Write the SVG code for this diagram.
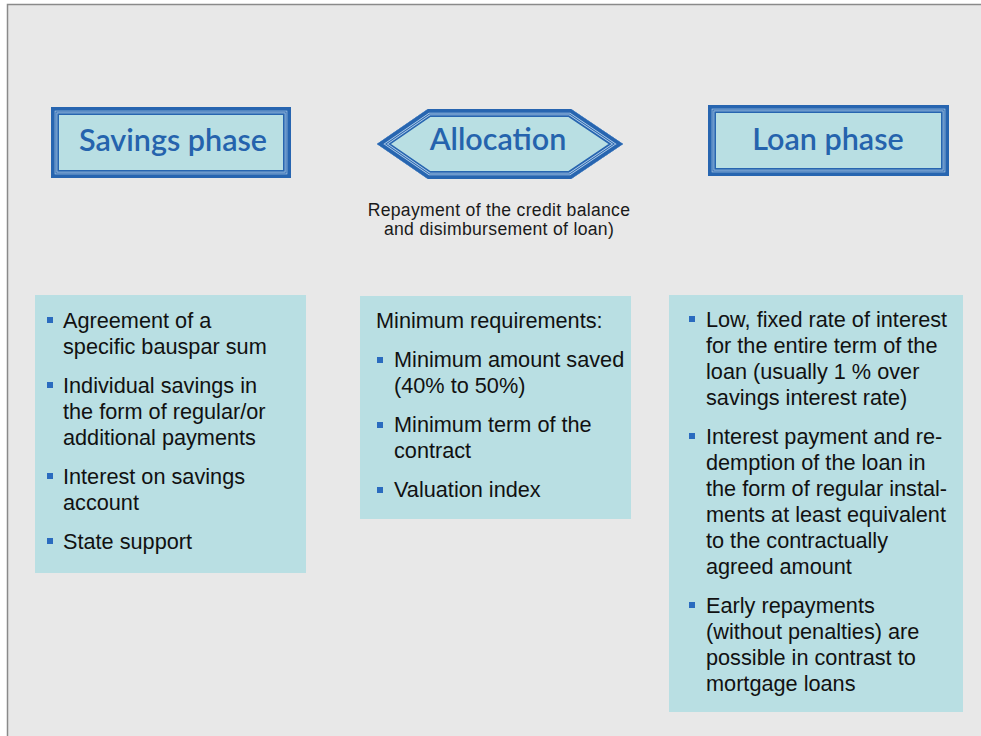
<svg xmlns="http://www.w3.org/2000/svg" xmlns:xlink="http://www.w3.org/1999/xlink" width="981" height="736" viewBox="0 0 981 736">
  <style>
    .frame { fill: #e8e8e8; stroke: #8a8a8a; stroke-width: 1.5; }
    .hfill { fill: #b9dfe3; }
    .b16 { fill: none; stroke: #2765b0; stroke-width: 16; stroke-linejoin: miter; }
    .l12 { fill: none; stroke: #b3cfe9; stroke-width: 12.6; stroke-linejoin: miter; }
    .b10 { fill: none; stroke: #2765b0; stroke-width: 11; stroke-linejoin: miter; }
    .l8 { fill: none; stroke: #b3cfe9; stroke-width: 8.8; stroke-linejoin: miter; }
    .b6 { fill: none; stroke: #2765b0; stroke-width: 7.4; stroke-linejoin: miter; }
    .htext { font-family: Lato, "Open Sans", sans-serif; font-size: 30.5px; font-weight: 600; fill: #2563ad; text-anchor: middle; }
    .panel { fill: #b9dfe3; }
    .body { font-family: "Liberation Sans", Arial, sans-serif; font-size: 21.7px; fill: #111; }
    .cap { font-family: "Liberation Sans", Arial, sans-serif; font-size: 17.6px; letter-spacing: 0.3px; fill: #1a1a1a; text-anchor: middle; }
    .bul { fill: #2a6bbf; }
  </style>
  <defs>
    <rect id="shapeSavings" x="51" y="107" width="240" height="71"/>
    <polygon id="shapeAlloc" points="377,144 428,109 571,109 623,144 571,179 428,179"/>
    <rect id="shapeLoan" x="708" y="105" width="241" height="71"/>
    <clipPath id="clipSavings"><use xlink:href="#shapeSavings"/></clipPath>
    <clipPath id="clipAlloc"><use xlink:href="#shapeAlloc"/></clipPath>
    <clipPath id="clipLoan"><use xlink:href="#shapeLoan"/></clipPath>
  </defs>

  <!-- page background with frame -->
  <rect class="frame" x="7.5" y="4.5" width="990" height="750"/>

  <!-- header: Savings phase -->
  <g id="savings-phase">
    <g clip-path="url(#clipSavings)">
      <use xlink:href="#shapeSavings" class="hfill"/>
      <use xlink:href="#shapeSavings" class="b16"/>
      <use xlink:href="#shapeSavings" class="l12"/>
      <use xlink:href="#shapeSavings" class="b10"/>
      <use xlink:href="#shapeSavings" class="l8"/>
      <use xlink:href="#shapeSavings" class="b6"/>
    </g>
    <text class="htext" x="173" y="151">Savings phase</text>
  </g>

  <!-- header: Allocation -->
  <g id="allocation">
    <g clip-path="url(#clipAlloc)">
      <use xlink:href="#shapeAlloc" class="hfill"/>
      <use xlink:href="#shapeAlloc" class="b16"/>
      <use xlink:href="#shapeAlloc" class="l12"/>
      <use xlink:href="#shapeAlloc" class="b10"/>
      <use xlink:href="#shapeAlloc" class="l8"/>
      <use xlink:href="#shapeAlloc" class="b6"/>
    </g>
    <text class="htext" x="498" y="150">Allocation</text>
  </g>

  <!-- header: Loan phase -->
  <g id="loan-phase">
    <g clip-path="url(#clipLoan)">
      <use xlink:href="#shapeLoan" class="hfill"/>
      <use xlink:href="#shapeLoan" class="b16"/>
      <use xlink:href="#shapeLoan" class="l12"/>
      <use xlink:href="#shapeLoan" class="b10"/>
      <use xlink:href="#shapeLoan" class="l8"/>
      <use xlink:href="#shapeLoan" class="b6"/>
    </g>
    <text class="htext" x="828" y="150">Loan phase</text>
  </g>

  <!-- caption under Allocation -->
  <g id="allocation-caption">
    <text class="cap" x="499" y="216">Repayment of the credit balance</text>
    <text class="cap" x="499" y="235">and disimbursement of loan)</text>
  </g>

  <!-- savings phase details -->
  <g id="savings-details">
    <rect class="panel" x="35" y="295" width="271" height="278"/>
    <rect class="bul" x="47" y="317" width="6" height="6"/>
    <rect class="bul" x="47" y="382" width="6" height="6"/>
    <rect class="bul" x="47" y="473" width="6" height="6"/>
    <rect class="bul" x="47" y="538" width="6" height="6"/>
    <text class="body" x="63" y="328">Agreement of a</text>
    <text class="body" x="63" y="354">specific bauspar sum</text>
    <text class="body" x="63" y="393">Individual savings in</text>
    <text class="body" x="63" y="419">the form of regular/or</text>
    <text class="body" x="63" y="445">additional payments</text>
    <text class="body" x="63" y="484">Interest on savings</text>
    <text class="body" x="63" y="510">account</text>
    <text class="body" x="63" y="549">State support</text>
  </g>

  <!-- allocation details -->
  <g id="allocation-details">
    <rect class="panel" x="360" y="296" width="271" height="223"/>
    <text class="body" x="376" y="328">Minimum requirements:</text>
    <rect class="bul" x="377" y="357" width="6" height="6"/>
    <rect class="bul" x="377" y="422" width="6" height="6"/>
    <rect class="bul" x="377" y="487" width="6" height="6"/>
    <text class="body" x="394" y="367">Minimum amount saved</text>
    <text class="body" x="394" y="393">(40% to 50%)</text>
    <text class="body" x="394" y="432">Minimum term of the</text>
    <text class="body" x="394" y="458">contract</text>
    <text class="body" x="394" y="497">Valuation index</text>
  </g>

  <!-- loan phase details -->
  <g id="loan-details">
    <rect class="panel" x="669" y="295" width="294" height="417"/>
    <rect class="bul" x="689" y="316" width="6" height="6"/>
    <rect class="bul" x="689" y="433" width="6" height="6"/>
    <rect class="bul" x="689" y="602" width="6" height="6"/>
    <text class="body" x="706" y="327">Low, fixed rate of interest</text>
    <text class="body" x="706" y="353">for the entire term of the</text>
    <text class="body" x="706" y="379">loan (usually 1 % over</text>
    <text class="body" x="706" y="405">savings interest rate)</text>
    <text class="body" x="706" y="444">Interest payment and re-</text>
    <text class="body" x="706" y="470">demption of the loan in</text>
    <text class="body" x="706" y="496">the form of regular instal-</text>
    <text class="body" x="706" y="522">ments at least equivalent</text>
    <text class="body" x="706" y="548">to the contractually</text>
    <text class="body" x="706" y="574">agreed amount</text>
    <text class="body" x="706" y="613">Early repayments</text>
    <text class="body" x="706" y="639">(without penalties) are</text>
    <text class="body" x="706" y="665">possible in contrast to</text>
    <text class="body" x="706" y="691">mortgage loans</text>
  </g>
</svg>
